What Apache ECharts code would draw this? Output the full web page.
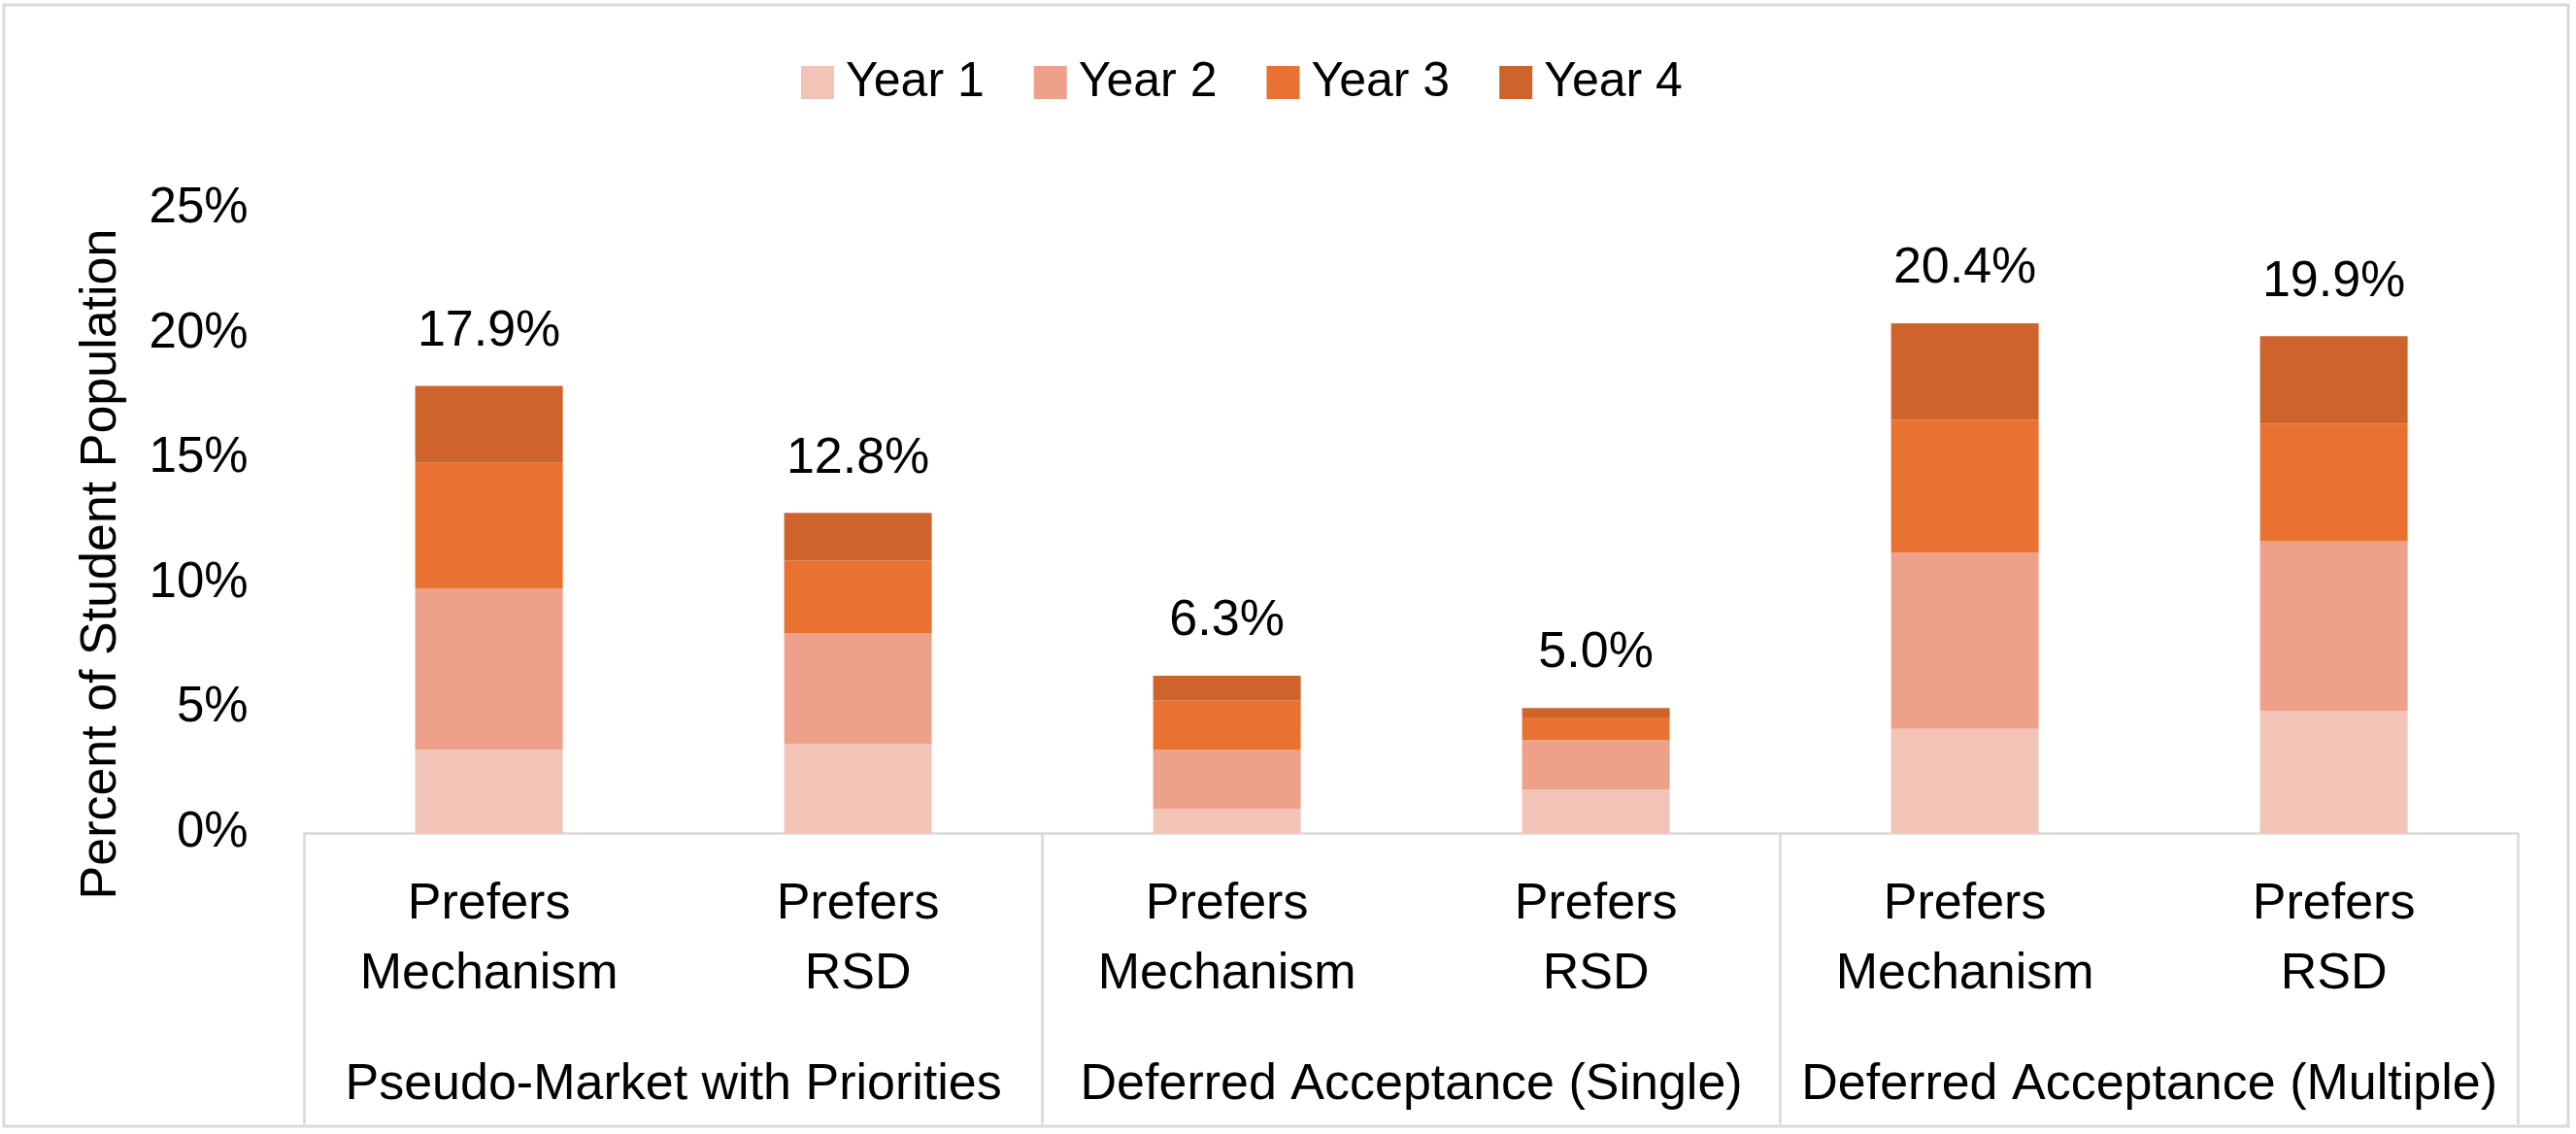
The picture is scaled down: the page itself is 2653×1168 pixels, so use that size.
<!DOCTYPE html>
<html>
<head>
<meta charset="utf-8">
<script src="https://cdn.jsdelivr.net/npm/echarts@6/dist/echarts.min.js"></script>
<style>
html,body{margin:0;padding:0;background:#fff;}
#chart{width:2653px;height:1168px;}
</style>
</head>
<body>
<div id="chart"></div>
<script>
const categories = ['Prefers\nMechanism', 'Prefers\nRSD', 'Prefers\nMechanism', 'Prefers\nRSD', 'Prefers\nMechanism', 'Prefers\nRSD'];
const groups = ['Pseudo-Market with Priorities', 'Deferred Acceptance (Single)', 'Deferred Acceptance (Multiple)'];
const seriesNames = ['Year 1', 'Year 2', 'Year 3', 'Year 4'];
const year1 = [3.33, 3.58, 0.96, 1.74, 4.17, 4.88];
const year2 = [6.47, 4.43, 2.37, 1.98, 7.06, 6.80];
const year3 = [5.02, 2.90, 1.99, 0.91, 5.32, 4.71];
const year4 = [3.08, 1.91, 0.98, 0.38, 3.86, 3.51];
const totals = [17.9, 12.8, 6.3, 5.0, 20.4, 19.9];
const yTicks = [0, 5, 10, 15, 20, 25];
const colors = ['#F2C4B8', '#EDA18B', '#E97132', '#CF632C'];

const FONT = 'Liberation Sans, Arial, sans-serif';
const chart = echarts.init(document.getElementById('chart'));
const values = [year1, year2, year3, year4];

const series = seriesNames.map((name, i) => ({
  name: name,
  type: 'bar',
  stack: 'total',
  barWidth: '40%',
  xAxisIndex: 0,
  itemStyle: { color: colors[i] },
  emphasis: { disabled: true },
  data: values[i],
  label: i === 3 ? {
    show: true,
    position: 'top',
    distance: 30,
    fontSize: 52,
    fontFamily: FONT,
    color: '#000',
    formatter: p => totals[p.dataIndex].toFixed(1) + '%'
  } : { show: false }
}));

chart.setOption({
  animation: false,
  backgroundColor: '#fff',
  textStyle: { fontFamily: FONT },
  legend: {
    data: seriesNames,
    left: 820,
    top: 55,
    icon: 'rect',
    itemWidth: 34,
    itemHeight: 34,
    itemGap: 51,
    textStyle: { fontSize: 50, color: '#000', fontFamily: FONT, padding: [0, 0, 0, 7] }
  },
  grid: { left: 313.6, right: 59.4, top: 215, bottom: 310, containLabel: false },
  xAxis: [
    {
      type: 'category',
      data: categories,
      position: 'bottom',
      axisLine: { show: true, lineStyle: { color: '#D9D9D9', width: 2.5 } },
      axisTick: { show: false },
      axisLabel: { interval: 0, margin: 38, fontSize: 52, lineHeight: 72, color: '#000', fontFamily: FONT }
    },
    {
      type: 'category',
      data: groups,
      position: 'bottom',
      axisLine: { show: false },
      axisTick: { show: true, length: 300, lineStyle: { color: '#D9D9D9', width: 2.5 } },
      axisLabel: { interval: 0, margin: 224, fontSize: 52, lineHeight: 72, color: '#000', fontFamily: FONT }
    }
  ],
  yAxis: {
    type: 'value',
    min: yTicks[0],
    max: yTicks[yTicks.length - 1],
    interval: 5,
    axisLine: { show: false },
    axisTick: { show: false },
    splitLine: { show: false },
    axisLabel: { margin: 58, fontSize: 51, color: '#000', fontFamily: FONT, formatter: '{value}%' }
  },
  graphic: [
    {
      type: 'rect',
      shape: { x: 4, y: 5, width: 2641, height: 1155 },
      style: { fill: 'none', stroke: '#D9D9D9', lineWidth: 3 },
      silent: true,
      z: -1
    },
    {
      type: 'text',
      x: 105,
      y: 581,
      rotation: Math.PI / 2,
      style: {
        text: 'Percent of Student Population',
        fontSize: 52,
        fontFamily: FONT,
        fill: '#000',
        align: 'center',
        verticalAlign: 'middle'
      }
    }
  ],
  series: series
});
</script>
</body>
</html>
